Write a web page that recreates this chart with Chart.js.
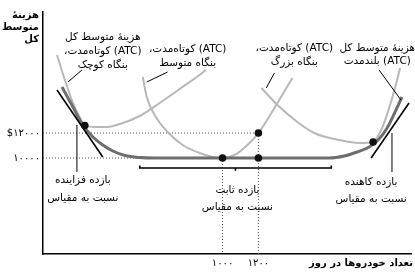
<!DOCTYPE html>
<html>
<head>
<meta charset="utf-8">
<script src="https://cdn.jsdelivr.net/npm/chart.js@4.4.1/dist/chart.umd.min.js"></script>
<style>
  html, body { margin: 0; padding: 0; background: #fff; }
  #wrap { width: 415px; height: 276px; }
</style>
</head>
<body>
<div id="wrap"><canvas id="costChart"></canvas></div>
<script>
// tick values and labels
const xTicks = [1000, 1200];
const xTickLabels = ["۱۰۰۰", "۱۲۰۰"];
const yTicks = [10000, 12000];
const yTickLabels = ["۱۰۰۰۰", "$۱۲۰۰۰"];

// cars per day (q) and average total cost (c)
const smallQ = [78, 122, 167, 206, 233, 289, 356, 444, 539, 650, 761, 872, 906];
const smallC = [18240, 16240, 14400, 13200, 12640, 12480, 12480, 12800, 13360, 14400, 15520, 16640, 17040];

const mediumQ = [556, 578, 622, 694, 778, 872, 944, 1000, 1067, 1139, 1200, 1289, 1389];
const mediumC = [16480, 14880, 13440, 12080, 11040, 10400, 10080, 10000, 10240, 11040, 12000, 14000, 16400];

const largeQ = [1217, 1306, 1417, 1511, 1650, 1761, 1839, 1889, 1928, 1961, 1989];
const largeC = [15600, 14240, 12880, 12000, 11440, 11200, 11280, 12400, 14000, 15600, 17200];

const longQ = [106, 167, 222, 278, 333, 389, 456, 539, 622, 1594, 1678, 1750, 1817, 1872, 1917, 1956, 2000];
const longC = [15680, 14080, 12640, 11680, 11040, 10560, 10200, 10040, 10000, 10000, 10160, 10480, 10880, 11520, 12400, 13520, 14880];

// marked points
const dotQ = [233, 1000, 1200, 1200, 1839];
const dotC = [12600, 10000, 12000, 10000, 11280];

// returns-to-scale segments
const incQ = [78, 333];
const incC = [15440, 10080];
const decQ = [1828, 2039];
const decC = [10000, 14400];
const flatQ = [539, 539, 1072, 1072, 1072, 1606, 1606];
const flatC = [9400, 9200, 9200, 8980, 9200, 9200, 9400];

function pts(xs, ys) {
    return xs.map(function (x, i) { return { x: x, y: ys[i] }; });
}

var X_MIN = 0, X_MAX = 2050, Y_MIN = 2320, Y_MAX = 21680;
var FONT = "'DejaVu Sans', sans-serif";

// dotted guide lines from the ticks
var guides = [
    pts([X_MIN, xTicks[1]], [yTicks[1], yTicks[1]]),
    pts([X_MIN, xTicks[1]], [yTicks[0], yTicks[0]]),
    pts([xTicks[0], xTicks[0]], [yTicks[0], Y_MIN]),
    pts([xTicks[1], xTicks[1]], [yTicks[1], Y_MIN])
];

function curve(data, color, width, order, tension) {
    return {
        data: data,
        showLine: true,
        borderColor: color,
        borderWidth: width,
        pointRadius: 0,
        tension: tension,
        cubicInterpolationMode: tension ? "monotone" : "default",
        fill: false,
        order: order
    };
}

var datasets = [];
guides.forEach(function (g) {
    var d = curve(g, "#555", 1, 5, 0);
    d.borderDash = [1, 2];
    datasets.push(d);
});
datasets.push(curve(pts(smallQ, smallC), "#b8b8b8", 2, 4, 0.4));
datasets.push(curve(pts(mediumQ, mediumC), "#b8b8b8", 2, 4, 0.4));
datasets.push(curve(pts(largeQ, largeC), "#b8b8b8", 2, 4, 0.4));
datasets.push(curve(pts(longQ, longC), "#6e6e6e", 3, 3, 0.4));
datasets.push(curve(pts(incQ, incC), "#000", 1.6, 2, 0));
datasets.push(curve(pts(decQ, decC), "#000", 1.6, 2, 0));
datasets.push(curve(pts(flatQ, flatC), "#000", 1.6, 2, 0));
datasets.push({
    data: pts(dotQ, dotC),
    showLine: false,
    pointRadius: 3.8,
    pointBackgroundColor: "#111",
    pointBorderWidth: 0,
    order: 0
});

// text blocks and leader lines, in data units
var notes = [
    { x: 333, y: 19680, lh: 14, size: 10.5, lines: ["هزینهٔ متوسط کل", "(ATC) کوتاه‌مدت،", "بنگاه کوچک"] },
    { x: 806, y: 18720, lh: 14, size: 10.5, lines: ["(ATC) کوتاه‌مدت،", "بنگاه متوسط"] },
    { x: 1400, y: 18800, lh: 14, size: 10.5, lines: ["(ATC) کوتاه‌مدت،", "بنگاه بزرگ"] },
    { x: 1862, y: 18800, lh: 13, size: 10.5, lines: ["هزینهٔ متوسط کل", "(ATC) بلندمدت"] },
    { x: 222, y: 8240, lh: 18, size: 10.5, lines: ["بازده فزاینده", "نسبت به مقیاس"] },
    { x: 1083, y: 7440, lh: 17, size: 10.5, lines: ["بازده ثابت", "نسبت به مقیاس"] },
    { x: 1828, y: 8080, lh: 17, size: 10.5, lines: ["بازده کاهنده", "نسبت به مقیاس"] }
];
var leaders = [
    [217, 17040, 139, 16080],
    [694, 16880, 578, 16080],
    [1289, 16800, 1244, 15600],
    [1872, 17040, 1994, 14640],
    [189, 12640, 189, 8880],
    [1944, 12000, 1944, 8880]
];

var notePlugin = {
    id: "notes",
    afterDatasetsDraw: function (chart) {
        var ctx = chart.ctx, sx = chart.scales.x, sy = chart.scales.y;
        ctx.save();
        ctx.strokeStyle = "#000";
        ctx.lineWidth = 1;
        leaders.forEach(function (l) {
            ctx.beginPath();
            ctx.moveTo(sx.getPixelForValue(l[0]), sy.getPixelForValue(l[1]));
            ctx.lineTo(sx.getPixelForValue(l[2]), sy.getPixelForValue(l[3]));
            ctx.stroke();
        });
        ctx.fillStyle = "#000";
        ctx.textAlign = "center";
        ctx.textBaseline = "middle";
        ctx.direction = "rtl";
        notes.forEach(function (n) {
            var px = sx.getPixelForValue(n.x), py = sy.getPixelForValue(n.y);
            ctx.font = n.size + "px " + FONT;
            n.lines.forEach(function (t, i) {
                ctx.fillText(t, px, py + i * n.lh);
            });
        });
        // axis titles
        ctx.font = "bold 10px " + FONT;
        ctx.textAlign = "right";
        ["هزینهٔ", "متوسط", "کل"].forEach(function (t, i) {
            ctx.fillText(t, 39, 15 + i * 12);
        });
        ctx.fillText("تعداد خودروها در روز", 413, 263);
        ctx.restore();
    }
};

var ctxCost = document.getElementById("costChart").getContext("2d");
var costChart = new Chart(ctxCost, {
    type: "scatter",
    data: { datasets: datasets },
    options: {
        responsive: true,
        maintainAspectRatio: false,
        animation: false,
        layout: { padding: { top: 12, right: 3, left: 0, bottom: 0 } },
        plugins: { legend: { display: false }, tooltip: { enabled: false } },
        scales: {
            x: {
                type: "linear",
                min: X_MIN,
                max: X_MAX,
                grid: { display: false, drawTicks: false },
                border: { display: true, color: "#000", width: 1.5 },
                afterBuildTicks: function (scale) {
                    scale.ticks = xTicks.map(function (v) { return { value: v }; });
                },
                afterFit: function (scale) { scale.height = 22; },
                ticks: {
                    autoSkip: false,
                    maxRotation: 0,
                    padding: 3,
                    color: "#000",
                    font: { family: FONT, size: 10 },
                    callback: function (v, i) { return xTickLabels[i]; }
                }
            },
            y: {
                type: "linear",
                min: Y_MIN,
                max: Y_MAX,
                grid: { display: false, drawTicks: false },
                border: { display: true, color: "#000", width: 1.5 },
                afterBuildTicks: function (scale) {
                    scale.ticks = yTicks.map(function (v) { return { value: v }; });
                },
                afterFit: function (scale) { scale.width = 43; },
                ticks: {
                    autoSkip: false,
                    padding: 3,
                    color: "#000",
                    font: { family: FONT, size: 10 },
                    callback: function (v, i) { return yTickLabels[i]; }
                }
            }
        }
    },
    plugins: [notePlugin]
});
</script>
</body>
</html>
